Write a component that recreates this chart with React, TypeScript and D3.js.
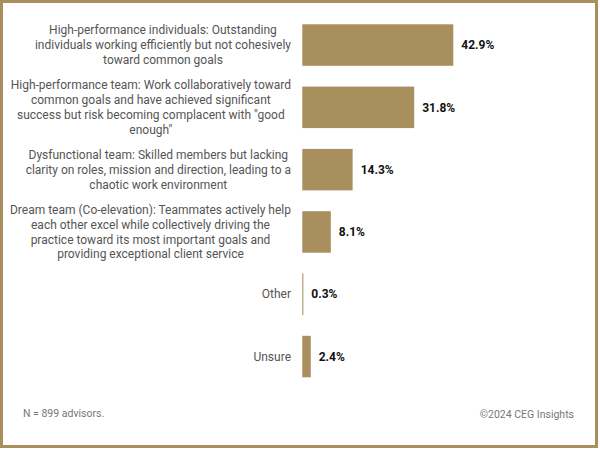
import React, { useEffect, useRef } from "react";
import * as d3 from "d3";

const categories: string[][] = [
  ["High-performance individuals: Outstanding", "individuals working efficiently but not cohesively", "toward common goals"],
  ["High-performance team: Work collaboratively toward", "common goals and have achieved significant", "success but risk becoming complacent with \"good", "enough\""],
  ["Dysfunctional team: Skilled members but lacking", "clarity on roles, mission and direction, leading to a", "chaotic work environment"],
  ["Dream team (Co-elevation): Teammates actively help", "each other excel while collectively driving the", "practice toward its most important goals and", "providing exceptional client service"],
  ["Other"],
  ["Unsure"],
];
const values: number[] = [42.9, 31.8, 14.3, 8.1, 0.3, 2.4];
const valueLabels: string[] = ["42.9%", "31.8%", "14.3%", "8.1%", "0.3%", "2.4%"];
const footnote = "N = 899 advisors.";
const credit = "©2024 CEG Insights";

const W = 600;
const H = 451;
const GOLD = "#a98e5e";

export default function App() {
  const ref = useRef<SVGSVGElement>(null);
  useEffect(() => {
    const svg = d3.select(ref.current);
    svg.selectAll("*").remove();
    svg.append("rect").attr("width", W).attr("height", H).attr("fill", "#fff");
    svg.append("rect")
      .attr("x", 1.5).attr("y", 1.5).attr("width", 595).attr("height", 445)
      .attr("fill", "none").attr("stroke", GOLD).attr("stroke-width", 3);

    const idx = values.map((_, i) => String(i));
    const y = d3.scaleBand().domain(idx).range([24.3, 377.3]).paddingInner(0.334).paddingOuter(0);
    const x = d3.scaleLinear().domain([0, 42.9]).range([302.3, 453.3]);

    const g = svg.append("g");
    g.selectAll("rect.bar").data(values).join("rect")
      .attr("class", "bar")
      .attr("x", x(0))
      .attr("y", (_, i) => y(String(i))!)
      .attr("width", (d) => Math.max(1, x(d) - x(0)))
      .attr("height", y.bandwidth())
      .attr("fill", GOLD);

    g.selectAll("text.val").data(values).join("text")
      .attr("class", "val")
      .attr("x", (d) => x(d) + 8)
      .attr("y", (_, i) => y(String(i))! + y.bandwidth() / 2)
      .attr("dy", "0.35em")
      .attr("font-family", "Roboto, sans-serif")
      .attr("font-size", 12)
      .attr("font-weight", "bold")
      .attr("fill", "#111")
      .text((_, i) => valueLabels[i]);

    const lineH = 14.8;
    const rightEdge = 291;
    categories.forEach((lines, i) => {
      const cy = y(String(i))! + y.bandwidth() / 2;
      const t = g.append("text")
        .attr("font-family", "Roboto, sans-serif")
        .attr("font-size", 12)
        .attr("fill", "#555")
        .attr("text-anchor", "middle");
      const spans = lines.map((l, j) =>
        t.append("tspan")
          .attr("y", cy + (j - (lines.length - 1) / 2) * lineH)
          .attr("dy", "0.35em")
          .text(l)
      );
      let maxW = 0;
      spans.forEach((s) => {
        const n = s.node() as SVGTextContentElement;
        maxW = Math.max(maxW, n.getComputedTextLength());
      });
      const cx = rightEdge - maxW / 2;
      spans.forEach((s) => s.attr("x", cx));
    });

    svg.append("text")
      .attr("x", 23).attr("y", 413).attr("dy", "0.35em")
      .attr("font-family", "Roboto, sans-serif").attr("font-size", 10.5)
      .attr("fill", "#777").text(footnote);
    svg.append("text")
      .attr("x", 574).attr("y", 414).attr("dy", "0.35em")
      .attr("text-anchor", "end")
      .attr("font-family", "Roboto, sans-serif").attr("font-size", 10.5)
      .attr("fill", "#777").text(credit);
  }, []);
  return (
    <svg ref={ref} width={W} height={H} style={{ position: "absolute", left: 0, top: 0, display: "block" }} />
  );
}
